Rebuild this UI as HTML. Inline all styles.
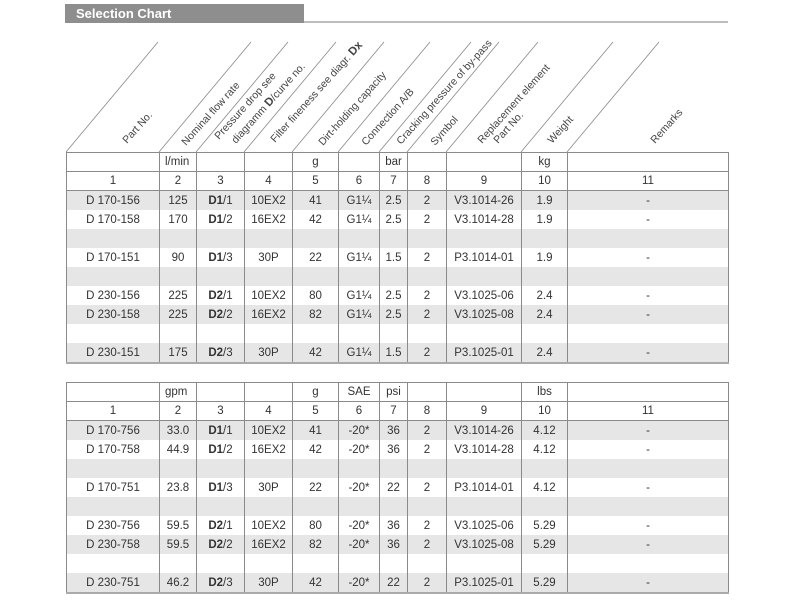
<!DOCTYPE html>
<html><head><meta charset="utf-8"><style>
body{margin:0;width:800px;height:600px;background:#fff;position:relative;overflow:hidden;font-family:"Liberation Sans",sans-serif;color:#333}
.bar{position:absolute;left:65px;top:4px;width:239px;height:19px;background:#8e8e8e;color:#fff;font-weight:bold;font-size:13px;line-height:19px;padding-left:11px;box-sizing:border-box}
.line{position:absolute;left:304px;top:21px;width:424px;height:2px;background:#bdbdbd}
table{position:absolute;left:66px;border-collapse:collapse;table-layout:fixed;font-size:11.5px}
td{border-left:1px solid #8a8a8a;border-right:1px solid #8a8a8a;height:19px;padding:0;text-align:center;line-height:18px;white-space:nowrap}
tr.h td{border:1px solid #8a8a8a;height:18px}
tr.g td{background:#e6e6e6}
tr.last td{border-bottom:2px solid #aaa}
table{border:1px solid #8a8a8a}
.l{text-align:left;padding-left:5px}
b{font-weight:bold}
svg{position:absolute;left:0;top:0}
</style></head><body>
<div class="bar">Selection Chart</div>
<div class="line"></div>
<svg width="800" height="160" font-family="Liberation Sans, sans-serif" font-size="10.5" fill="#444">
<g stroke="#888" stroke-width="0.8">
<line x1="66" y1="152" x2="158" y2="42"/>
<line x1="159" y1="152" x2="251" y2="42"/>
<line x1="196" y1="152" x2="288" y2="42"/>
<line x1="244" y1="152" x2="336" y2="42"/>
<line x1="292" y1="152" x2="384" y2="42"/>
<line x1="338" y1="152" x2="430" y2="42"/>
<line x1="379" y1="152" x2="471" y2="42"/>
<line x1="407" y1="152" x2="499" y2="42"/>
<line x1="446" y1="152" x2="538" y2="42"/>
<line x1="521" y1="152" x2="613" y2="42"/>
<line x1="567" y1="152" x2="659" y2="42"/>
</g>
<text transform="translate(127,144) rotate(-48)">Part No.</text>
<text transform="translate(186,146) rotate(-48)">Nominal flow rate</text>
<text transform="translate(219,140) rotate(-48)">Pressure drop see</text>
<text transform="translate(236,144) rotate(-48)">diagramm <tspan font-weight="bold" font-size="11.5">D</tspan>/curve no.</text>
<text transform="translate(275,143) rotate(-48)">Filter fineness see diagr. <tspan font-weight="bold" font-size="11.5">Dx</tspan></text>
<text transform="translate(323,146) rotate(-48)">Dirt-holding capacity</text>
<text transform="translate(366,146) rotate(-48)">Connection A/B</text>
<text transform="translate(401,145) rotate(-48)">Cracking pressure of by-pass</text>
<text transform="translate(435,146) rotate(-48)">Symbol</text>
<text transform="translate(482,144) rotate(-48)">Replacement element</text>
<text transform="translate(498,144) rotate(-48)">Part No.</text>
<text transform="translate(552,144) rotate(-48)">Weight</text>
<text transform="translate(655,144) rotate(-48)">Remarks</text>
</svg>

<table style="top:152px">
<colgroup><col style="width:93px"><col style="width:37px"><col style="width:48px"><col style="width:48px"><col style="width:46px"><col style="width:41px"><col style="width:28px"><col style="width:39px"><col style="width:75px"><col style="width:46px"><col style="width:161px"></colgroup>
<tr class="h"><td></td><td class="l">l/min</td><td></td><td></td><td>g</td><td></td><td>bar</td><td></td><td></td><td>kg</td><td></td></tr>
<tr class="h"><td>1</td><td>2</td><td>3</td><td>4</td><td>5</td><td>6</td><td>7</td><td>8</td><td>9</td><td>10</td><td>11</td></tr>
<tr class="g"><td>D 170-156</td><td>125</td><td><b>D1</b>/1</td><td>10EX2</td><td>41</td><td>G1¼</td><td>2.5</td><td>2</td><td>V3.1014-26</td><td>1.9</td><td>-</td></tr>
<tr><td>D 170-158</td><td>170</td><td><b>D1</b>/2</td><td>16EX2</td><td>42</td><td>G1¼</td><td>2.5</td><td>2</td><td>V3.1014-28</td><td>1.9</td><td>-</td></tr>
<tr class="g"><td></td><td></td><td></td><td></td><td></td><td></td><td></td><td></td><td></td><td></td><td></td></tr>
<tr><td>D 170-151</td><td>90</td><td><b>D1</b>/3</td><td>30P</td><td>22</td><td>G1¼</td><td>1.5</td><td>2</td><td>P3.1014-01</td><td>1.9</td><td>-</td></tr>
<tr class="g"><td></td><td></td><td></td><td></td><td></td><td></td><td></td><td></td><td></td><td></td><td></td></tr>
<tr><td>D 230-156</td><td>225</td><td><b>D2</b>/1</td><td>10EX2</td><td>80</td><td>G1¼</td><td>2.5</td><td>2</td><td>V3.1025-06</td><td>2.4</td><td>-</td></tr>
<tr class="g"><td>D 230-158</td><td>225</td><td><b>D2</b>/2</td><td>16EX2</td><td>82</td><td>G1¼</td><td>2.5</td><td>2</td><td>V3.1025-08</td><td>2.4</td><td>-</td></tr>
<tr><td></td><td></td><td></td><td></td><td></td><td></td><td></td><td></td><td></td><td></td><td></td></tr>
<tr class="g last"><td>D 230-151</td><td>175</td><td><b>D2</b>/3</td><td>30P</td><td>42</td><td>G1¼</td><td>1.5</td><td>2</td><td>P3.1025-01</td><td>2.4</td><td>-</td></tr>
</table>

<table style="top:382px">
<colgroup><col style="width:93px"><col style="width:37px"><col style="width:48px"><col style="width:48px"><col style="width:46px"><col style="width:41px"><col style="width:28px"><col style="width:39px"><col style="width:75px"><col style="width:46px"><col style="width:161px"></colgroup>
<tr class="h"><td></td><td class="l">gpm</td><td></td><td></td><td>g</td><td>SAE</td><td>psi</td><td></td><td></td><td>lbs</td><td></td></tr>
<tr class="h"><td>1</td><td>2</td><td>3</td><td>4</td><td>5</td><td>6</td><td>7</td><td>8</td><td>9</td><td>10</td><td>11</td></tr>
<tr class="g"><td>D 170-756</td><td>33.0</td><td><b>D1</b>/1</td><td>10EX2</td><td>41</td><td>-20*</td><td>36</td><td>2</td><td>V3.1014-26</td><td>4.12</td><td>-</td></tr>
<tr><td>D 170-758</td><td>44.9</td><td><b>D1</b>/2</td><td>16EX2</td><td>42</td><td>-20*</td><td>36</td><td>2</td><td>V3.1014-28</td><td>4.12</td><td>-</td></tr>
<tr class="g"><td></td><td></td><td></td><td></td><td></td><td></td><td></td><td></td><td></td><td></td><td></td></tr>
<tr><td>D 170-751</td><td>23.8</td><td><b>D1</b>/3</td><td>30P</td><td>22</td><td>-20*</td><td>22</td><td>2</td><td>P3.1014-01</td><td>4.12</td><td>-</td></tr>
<tr class="g"><td></td><td></td><td></td><td></td><td></td><td></td><td></td><td></td><td></td><td></td><td></td></tr>
<tr><td>D 230-756</td><td>59.5</td><td><b>D2</b>/1</td><td>10EX2</td><td>80</td><td>-20*</td><td>36</td><td>2</td><td>V3.1025-06</td><td>5.29</td><td>-</td></tr>
<tr class="g"><td>D 230-758</td><td>59.5</td><td><b>D2</b>/2</td><td>16EX2</td><td>82</td><td>-20*</td><td>36</td><td>2</td><td>V3.1025-08</td><td>5.29</td><td>-</td></tr>
<tr><td></td><td></td><td></td><td></td><td></td><td></td><td></td><td></td><td></td><td></td><td></td></tr>
<tr class="g last"><td>D 230-751</td><td>46.2</td><td><b>D2</b>/3</td><td>30P</td><td>42</td><td>-20*</td><td>22</td><td>2</td><td>P3.1025-01</td><td>5.29</td><td>-</td></tr>
</table>
</body></html>
